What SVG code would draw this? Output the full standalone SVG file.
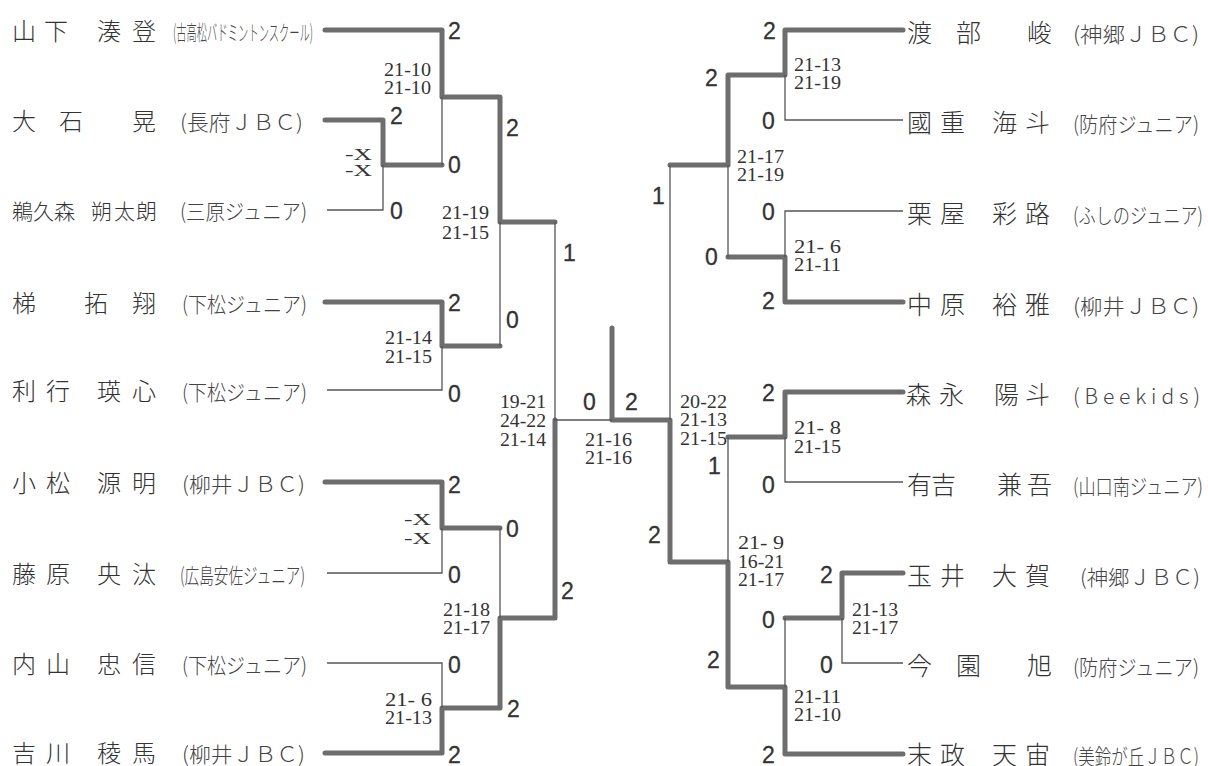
<svg xmlns="http://www.w3.org/2000/svg" width="1208" height="766" viewBox="0 0 1208 766">
<style>
.th{stroke:#6d6d6d;stroke-width:5;fill:none;stroke-linecap:round;stroke-linejoin:round}
.tn{stroke:#555;stroke-width:1.3;fill:none}
.nm{font-family:"Noto Sans CJK JP","Noto Sans CJK SC",sans-serif;font-size:24px;fill:#333;font-weight:300}
.nr{font-family:"Noto Sans CJK JP","Noto Sans CJK SC",sans-serif;font-size:25px;fill:#333;font-weight:300}
.tm{font-family:"Noto Sans CJK JP","Noto Sans CJK SC",sans-serif;font-size:21px;fill:#444;font-weight:300}
.sc{font-family:"Liberation Sans",Arial,sans-serif;font-size:23px;fill:#333;stroke:#333;stroke-width:0.3}
.gs{font-family:"Liberation Serif","Times New Roman",serif;font-size:18px;fill:#333}
.gx{font-family:"Liberation Serif","Times New Roman",serif;font-size:16px;fill:#333}
</style>
<rect width="1208" height="766" fill="#fff"/>
<g id="connectors">
<path class="th" d="M325,30 H442 V97 H500 V222 H555"/>
<path class="th" d="M325,120 H383 V165 H442"/>
<path class="th" d="M325,302 H442 V346 H500"/>
<path class="th" d="M325,482 H442 V528 H500"/>
<path class="th" d="M325,753 H442 V708 H500 V618 H555 V420"/>
<path class="th" d="M612,328 V420 H670 V562 H728 V687 H785 V754 H903"/>
<path class="th" d="M670,165 H728 V75 H785 V30 H903"/>
<path class="th" d="M728,257 H785 V302 H903"/>
<path class="th" d="M728,437 H785 V392 H903"/>
<path class="th" d="M785,618 H842 V573 H903"/>
<path class="tn" d="M442,97 V165"/>
<path class="tn" d="M327,210 H383 V165"/>
<path class="tn" d="M500,222 V346"/>
<path class="tn" d="M442,346 V390 H327"/>
<path class="tn" d="M442,528 V573 H327"/>
<path class="tn" d="M500,528 V618"/>
<path class="tn" d="M327,663 H442 V708"/>
<path class="tn" d="M555,222 V420 H612"/>
<path class="tn" d="M670,165 V420"/>
<path class="tn" d="M785,75 V120 H903"/>
<path class="tn" d="M728,165 V257"/>
<path class="tn" d="M785,257 V211 H903"/>
<path class="tn" d="M728,437 V562"/>
<path class="tn" d="M785,437 V482 H903"/>
<path class="tn" d="M785,687 V618"/>
<path class="tn" d="M842,618 V663 H903"/>
</g>
<g id="left-players">
<g id="p-yamashita"><text class="nm" x="12 44 97 132" y="40">山下湊登</text><text class="tm" x="173" y="40" textLength="140" lengthAdjust="spacingAndGlyphs">(古高松バドミントンスクール)</text></g>
<g id="p-oishi"><text class="nm" x="12 59 132" y="130">大石晃</text><text class="tm" x="180" y="130" textLength="123" lengthAdjust="spacingAndGlyphs">(長府ＪＢＣ)</text></g>
<g id="p-ukumori"><text class="nm" style="font-size:21px" x="12 33 54 91 114 136" y="219">鵜久森朔太朗</text><text class="tm" x="180" y="219" textLength="127" lengthAdjust="spacingAndGlyphs">(三原ジュニア)</text></g>
<g id="p-kakehashi"><text class="nm" x="12 84 132" y="312">梯拓翔</text><text class="tm" x="182" y="312" textLength="125" lengthAdjust="spacingAndGlyphs">(下松ジュニア)</text></g>
<g id="p-toshiyuki"><text class="nm" x="12 46 97 132" y="400">利行瑛心</text><text class="tm" x="182" y="400" textLength="125" lengthAdjust="spacingAndGlyphs">(下松ジュニア)</text></g>
<g id="p-komatsu"><text class="nm" x="12 46 97 132" y="492">小松源明</text><text class="tm" x="182" y="492" textLength="123" lengthAdjust="spacingAndGlyphs">(柳井ＪＢＣ)</text></g>
<g id="p-fujiwara"><text class="nm" x="12 46 97 132" y="583">藤原央汰</text><text class="tm" x="180" y="583" textLength="125" lengthAdjust="spacingAndGlyphs">(広島安佐ジュニア)</text></g>
<g id="p-uchiyama"><text class="nm" x="12 46 97 132" y="673">内山忠信</text><text class="tm" x="182" y="673" textLength="125" lengthAdjust="spacingAndGlyphs">(下松ジュニア)</text></g>
<g id="p-yoshikawa"><text class="nm" x="12 46 97 132" y="762">吉川稜馬</text><text class="tm" x="182" y="762" textLength="123" lengthAdjust="spacingAndGlyphs">(柳井ＪＢＣ)</text></g>
</g>
<g id="right-players">
<g id="p-watanabe"><text class="nr" x="907 956 1027" y="42">渡部峻</text><text class="tm" x="1073" y="42" textLength="126" lengthAdjust="spacingAndGlyphs">(神郷ＪＢＣ)</text></g>
<g id="p-kunishige"><text class="nr" x="907 940 992 1025" y="132">國重海斗</text><text class="tm" x="1073" y="132" textLength="126" lengthAdjust="spacingAndGlyphs">(防府ジュニア)</text></g>
<g id="p-kuriya"><text class="nr" x="907 940 992 1025" y="223">栗屋彩路</text><text class="tm" x="1073" y="223" textLength="130" lengthAdjust="spacingAndGlyphs">(ふしのジュニア)</text></g>
<g id="p-nakahara"><text class="nr" x="907 940 992 1025" y="314">中原裕雅</text><text class="tm" x="1073" y="314" textLength="126" lengthAdjust="spacingAndGlyphs">(柳井ＪＢＣ)</text></g>
<g id="p-morinaga"><text class="nr" x="906 939 994 1025" y="404">森永陽斗</text><text class="tm" x="1073" y="404" textLength="127" lengthAdjust="spacing">(Beekids)</text></g>
<g id="p-ariyoshi"><text class="nr" x="907 931 997 1027" y="494">有吉兼吾</text><text class="tm" x="1073" y="494" textLength="130" lengthAdjust="spacingAndGlyphs">(山口南ジュニア)</text></g>
<g id="p-tamai"><text class="nr" x="907 940 992 1025" y="585">玉井大賀</text><text class="tm" x="1080" y="585" textLength="120" lengthAdjust="spacingAndGlyphs">(神郷ＪＢＣ)</text></g>
<g id="p-imazono"><text class="nr" x="907 956 1027" y="675">今園旭</text><text class="tm" x="1073" y="675" textLength="126" lengthAdjust="spacingAndGlyphs">(防府ジュニア)</text></g>
<g id="p-suemasa"><text class="nr" x="907 940 992 1025" y="764">末政天宙</text><text class="tm" x="1073" y="764" textLength="126" lengthAdjust="spacingAndGlyphs">(美鈴が丘ＪＢＣ)</text></g>
</g>
<g id="match-scores" class="sc">
<text x="448" y="39">2</text><text x="390" y="124">2</text><text x="448" y="173">0</text><text x="390" y="219">0</text>
<text x="506" y="136">2</text><text x="448" y="311">2</text><text x="506" y="328">0</text><text x="448" y="402">0</text>
<text x="448" y="493">2</text><text x="506" y="537">0</text><text x="448" y="583">0</text><text x="561" y="599">2</text>
<text x="448" y="673">0</text><text x="507" y="717">2</text><text x="448" y="763">2</text><text x="563" y="261">1</text>
<text x="583" y="410">0</text><text x="625" y="410">2</text>
<text x="763" y="39">2</text><text x="705" y="86">2</text><text x="762" y="129">0</text><text x="652" y="204">1</text>
<text x="762" y="220">0</text><text x="705" y="265">0</text><text x="762" y="309">2</text><text x="762" y="401">2</text>
<text x="708" y="474">1</text><text x="762" y="493">0</text><text x="648" y="543">2</text><text x="820" y="583">2</text>
<text x="762" y="628">0</text><text x="820" y="673">0</text><text x="707" y="668">2</text><text x="762" y="763">2</text>
</g>
<g id="game-scores" class="gs">
<text x="384" y="76" textLength="47" lengthAdjust="spacingAndGlyphs">21-10</text>
<text x="384" y="94" textLength="47" lengthAdjust="spacingAndGlyphs">21-10</text>
<text class="gx" x="345" y="160" textLength="27" lengthAdjust="spacingAndGlyphs">-X</text>
<text class="gx" x="345" y="176" textLength="27" lengthAdjust="spacingAndGlyphs">-X</text>
<text x="442" y="219" textLength="47" lengthAdjust="spacingAndGlyphs">21-19</text>
<text x="442" y="239" textLength="47" lengthAdjust="spacingAndGlyphs">21-15</text>
<text x="385" y="344" textLength="47" lengthAdjust="spacingAndGlyphs">21-14</text>
<text x="385" y="363" textLength="47" lengthAdjust="spacingAndGlyphs">21-15</text>
<text x="500" y="408" textLength="46" lengthAdjust="spacingAndGlyphs">19-21</text>
<text x="500" y="427" textLength="46" lengthAdjust="spacingAndGlyphs">24-22</text>
<text x="500" y="446" textLength="46" lengthAdjust="spacingAndGlyphs">21-14</text>
<text class="gx" x="404" y="525" textLength="27" lengthAdjust="spacingAndGlyphs">-X</text>
<text class="gx" x="404" y="544" textLength="27" lengthAdjust="spacingAndGlyphs">-X</text>
<text x="443" y="616" textLength="47" lengthAdjust="spacingAndGlyphs">21-18</text>
<text x="443" y="634" textLength="47" lengthAdjust="spacingAndGlyphs">21-17</text>
<text x="385" y="706" textLength="47" lengthAdjust="spacingAndGlyphs">21- 6</text>
<text x="385" y="724" textLength="47" lengthAdjust="spacingAndGlyphs">21-13</text>
<text x="585" y="446" textLength="47" lengthAdjust="spacingAndGlyphs">21-16</text>
<text x="585" y="464" textLength="47" lengthAdjust="spacingAndGlyphs">21-16</text>
<text x="680" y="408" textLength="47" lengthAdjust="spacingAndGlyphs">20-22</text>
<text x="680" y="426" textLength="47" lengthAdjust="spacingAndGlyphs">21-13</text>
<text x="680" y="445" textLength="47" lengthAdjust="spacingAndGlyphs">21-15</text>
<text x="738" y="549" textLength="46" lengthAdjust="spacingAndGlyphs">21- 9</text>
<text x="738" y="568" textLength="46" lengthAdjust="spacingAndGlyphs">16-21</text>
<text x="738" y="586" textLength="46" lengthAdjust="spacingAndGlyphs">21-17</text>
<text x="794" y="71" textLength="47" lengthAdjust="spacingAndGlyphs">21-13</text>
<text x="794" y="89" textLength="47" lengthAdjust="spacingAndGlyphs">21-19</text>
<text x="737" y="163" textLength="47" lengthAdjust="spacingAndGlyphs">21-17</text>
<text x="737" y="181" textLength="47" lengthAdjust="spacingAndGlyphs">21-19</text>
<text x="794" y="253" textLength="47" lengthAdjust="spacingAndGlyphs">21- 6</text>
<text x="794" y="271" textLength="47" lengthAdjust="spacingAndGlyphs">21-11</text>
<text x="794" y="434" textLength="47" lengthAdjust="spacingAndGlyphs">21- 8</text>
<text x="794" y="453" textLength="47" lengthAdjust="spacingAndGlyphs">21-15</text>
<text x="852" y="616" textLength="46" lengthAdjust="spacingAndGlyphs">21-13</text>
<text x="852" y="634" textLength="46" lengthAdjust="spacingAndGlyphs">21-17</text>
<text x="794" y="703" textLength="47" lengthAdjust="spacingAndGlyphs">21-11</text>
<text x="794" y="721" textLength="47" lengthAdjust="spacingAndGlyphs">21-10</text>
</g>
</svg>
